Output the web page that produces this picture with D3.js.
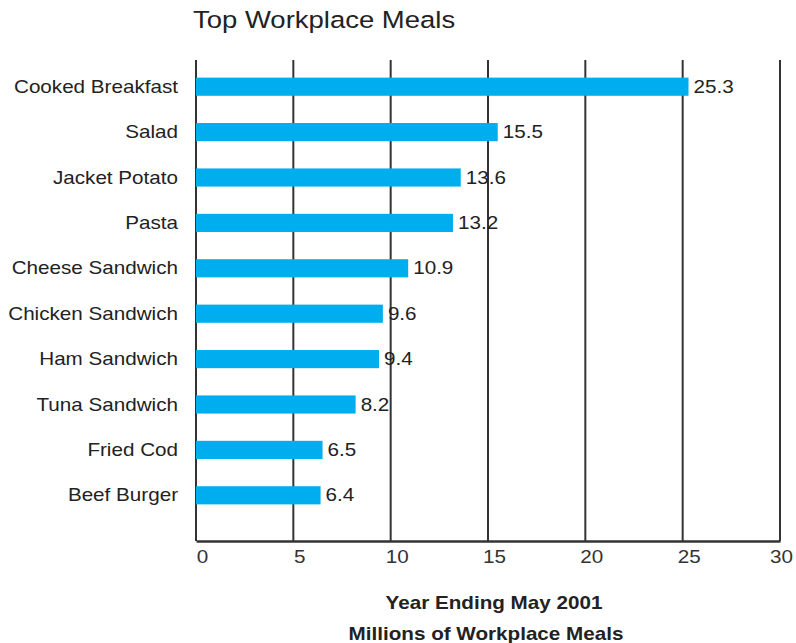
<!DOCTYPE html>
<html>
<head>
<meta charset="utf-8">
<script src="https://cdn.jsdelivr.net/npm/d3@7"></script>
<style>
  html, body { margin: 0; padding: 0; background: #fff; }
  svg { display: block; font-family: "Liberation Sans", Arial, Helvetica, sans-serif; }
</style>
</head>
<body>
<svg id="chart" width="796" height="643"></svg>
<script>
const categories = ["Cooked Breakfast", "Salad", "Jacket Potato", "Pasta", "Cheese Sandwich",
  "Chicken Sandwich", "Ham Sandwich", "Tuna Sandwich", "Fried Cod", "Beef Burger"];
const meals = [25.3, 15.5, 13.6, 13.2, 10.9, 9.6, 9.4, 8.2, 6.5, 6.4];
const tickValues = [0, 5, 10, 15, 20, 25, 30];

const svg = d3.select("#chart");
const plotLeft = 196, plotRight = 780, plotTop = 60, plotBottom = 541;
const stretch = 1.18;      // wide typeface look
const fontSize = 17.5;

const x = d3.scaleLinear().domain([0, 30]).range([plotLeft, plotRight]);
const y = d3.scaleBand().domain(categories).range([64, 518]).paddingInner(0.6).paddingOuter(0.3);

// place text at (px, py), stretched horizontally around its anchor
function wideText(sel, px, py) {
  return sel.attr("x", 0).attr("y", 0)
    .attr("transform", (d, i) => `translate(${px(d, i)},${py(d, i)}) scale(${stretch},1)`);
}

// Title
wideText(svg.append("text"), () => 193, () => 28)
  .attr("font-size", 23.3).attr("fill", "#222")
  .text("Top Workplace Meals");

// Vertical grid lines
svg.append("g").selectAll("line").data(tickValues).join("line")
  .attr("x1", d => x(d)).attr("x2", d => x(d))
  .attr("y1", plotTop).attr("y2", plotBottom)
  .attr("stroke", "#333").attr("stroke-width", 2);

// Bars
svg.append("g").selectAll("rect").data(meals).join("rect")
  .attr("x", x(0))
  .attr("y", (d, i) => y(categories[i]))
  .attr("width", d => x(d) - x(0))
  .attr("height", y.bandwidth())
  .attr("fill", "#00aeef");

// Value labels
wideText(svg.append("g").selectAll("text").data(meals).join("text"),
    d => x(d) + 5, (d, i) => y(categories[i]) + y.bandwidth() / 2)
  .attr("dy", "0.35em")
  .attr("font-size", fontSize).attr("fill", "#222")
  .text(d => d.toFixed(1));

// Category labels
wideText(svg.append("g").selectAll("text").data(categories).join("text"),
    () => 178, d => y(d) + y.bandwidth() / 2)
  .attr("dy", "0.35em")
  .attr("text-anchor", "end")
  .attr("font-size", fontSize).attr("fill", "#222")
  .text(d => d);

// Bottom axis
const xAxis = d3.axisBottom(x).tickValues(tickValues).tickSize(0).tickPadding(10);
const ax = svg.append("g").attr("transform", `translate(0,${plotBottom})`).call(xAxis);
ax.select(".domain").attr("stroke", "#333").attr("stroke-width", 2.5);
ax.selectAll(".tick text")
  .attr("font-size", fontSize).attr("fill", "#333")
  .attr("font-family", "'Liberation Sans', Arial, sans-serif")
  .attr("transform", `scale(${stretch},1)`)
  .attr("x", d => (d === 30 ? 1 : 6) / stretch);

// Axis captions
wideText(svg.append("text"), () => 494, () => 609)
  .attr("text-anchor", "middle")
  .attr("font-size", fontSize).attr("font-weight", "bold").attr("fill", "#222")
  .text("Year Ending May 2001");
wideText(svg.append("text"), () => 486, () => 640)
  .attr("text-anchor", "middle")
  .attr("font-size", fontSize).attr("font-weight", "bold").attr("fill", "#222")
  .text("Millions of Workplace Meals");
</script>
</body>
</html>
